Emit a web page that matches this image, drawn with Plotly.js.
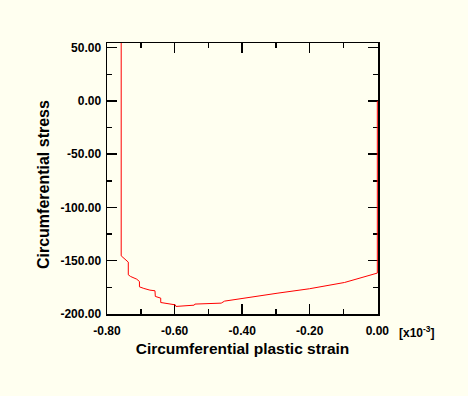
<!DOCTYPE html>
<html>
<head>
<meta charset="utf-8">
<script src="https://cdn.plot.ly/plotly-3.0.1.min.js"></script>
<style>
html,body{margin:0;padding:0;background:#FFFFF0;}
#chart{width:468px;height:396px;}
</style>
</head>
<body>
<div id="chart"></div>
<script>
// Circumferential plastic strain (x10^-3)
const strain = [0.000, 0.000, -0.097, -0.201, -0.294, -0.398, -0.452, -0.462, -0.496, -0.540, -0.542,
  -0.585, -0.596, -0.598, -0.609, -0.624, -0.641, -0.641, -0.657, -0.658, -0.673, -0.691, -0.704,
  -0.704, -0.712, -0.730, -0.737, -0.737, -0.744, -0.758, -0.758];
// Circumferential stress
const stress = [0.0, -161.6, -170.4, -176.3, -180.4, -185.1, -187.9, -189.8, -190.1, -190.7, -191.7,
  -192.3, -192.9, -191.4, -190.7, -190.1, -189.2, -185.1, -183.5, -178.2, -177.6, -176.0, -174.5,
  -169.5, -167.3, -164.8, -163.2, -151.3, -149.1, -145.4, 80.0];

const xTickVals = [-0.8, -0.6, -0.4, -0.2, 0.0];
const xTickText = ["-0.80", "-0.60", "-0.40", "-0.20", "0.00"];
const yTickVals = [50, 0, -50, -100, -150, -200];
const yTickText = ["50.00", "0.00", "-50.00", "-100.00", "-150.00", "-200.00"];

const FONT = 'Liberation Sans, Arial, sans-serif';

const axisCommon = {
  showgrid: false, zeroline: false, showline: true, linecolor: '#000', linewidth: 1.5,
  mirror: 'ticks', ticks: 'inside', ticklen: 10, tickwidth: 1.5, tickcolor: '#000',
  tickmode: 'array', layer: 'below traces',
  tickfont: {family: FONT, size: 12, color: '#000', weight: 'bold'},
  minor: {ticks: 'inside', ticklen: 5, tickwidth: 1.5, tickcolor: '#000', showgrid: false}
};

const layout = {
  width: 468, height: 396,
  margin: {l: 107, r: 90, t: 43, b: 82},
  paper_bgcolor: '#FFFFF0', plot_bgcolor: '#FFFFF0',
  showlegend: false,
  xaxis: Object.assign({}, axisCommon, {
    range: [-0.8, 0.002], tickvals: xTickVals, ticktext: xTickText, ticklabelstandoff: 5,
    minor: Object.assign({}, axisCommon.minor, {dtick: 0.1, tick0: 0}),
    title: {text: 'Circumferential plastic strain', standoff: 6,
      font: {family: FONT, size: 15.5, color: '#000', weight: 'bold'}}
  }),
  yaxis: Object.assign({}, axisCommon, {
    range: [-200, 54.4], tickvals: yTickVals, ticktext: yTickText, ticklabelstandoff: 2,
    minor: Object.assign({}, axisCommon.minor, {dtick: 25, tick0: 0})
  }),
  annotations: [{
    xref: 'paper', yref: 'paper', x: 1.07, y: 0, yshift: -18, xanchor: 'left', yanchor: 'middle',
    showarrow: false, text: '[x10<sup>-3</sup>]',
    font: {family: FONT, size: 12, color: '#000', weight: 'bold'}
  }, {
    xref: 'paper', yref: 'paper', x: -0.236, y: 0.476, xanchor: 'center', yanchor: 'middle',
    textangle: -90, showarrow: false, text: 'Circumferential stress',
    font: {family: FONT, size: 16, color: '#000', weight: 'bold'}
  }]
};

Plotly.newPlot('chart', [{
  x: strain, y: stress, type: 'scatter', mode: 'lines',
  line: {color: '#FF0000', width: 1}, hoverinfo: 'skip'
}], layout, {staticPlot: true, displayModeBar: false});
</script>
</body>
</html>
